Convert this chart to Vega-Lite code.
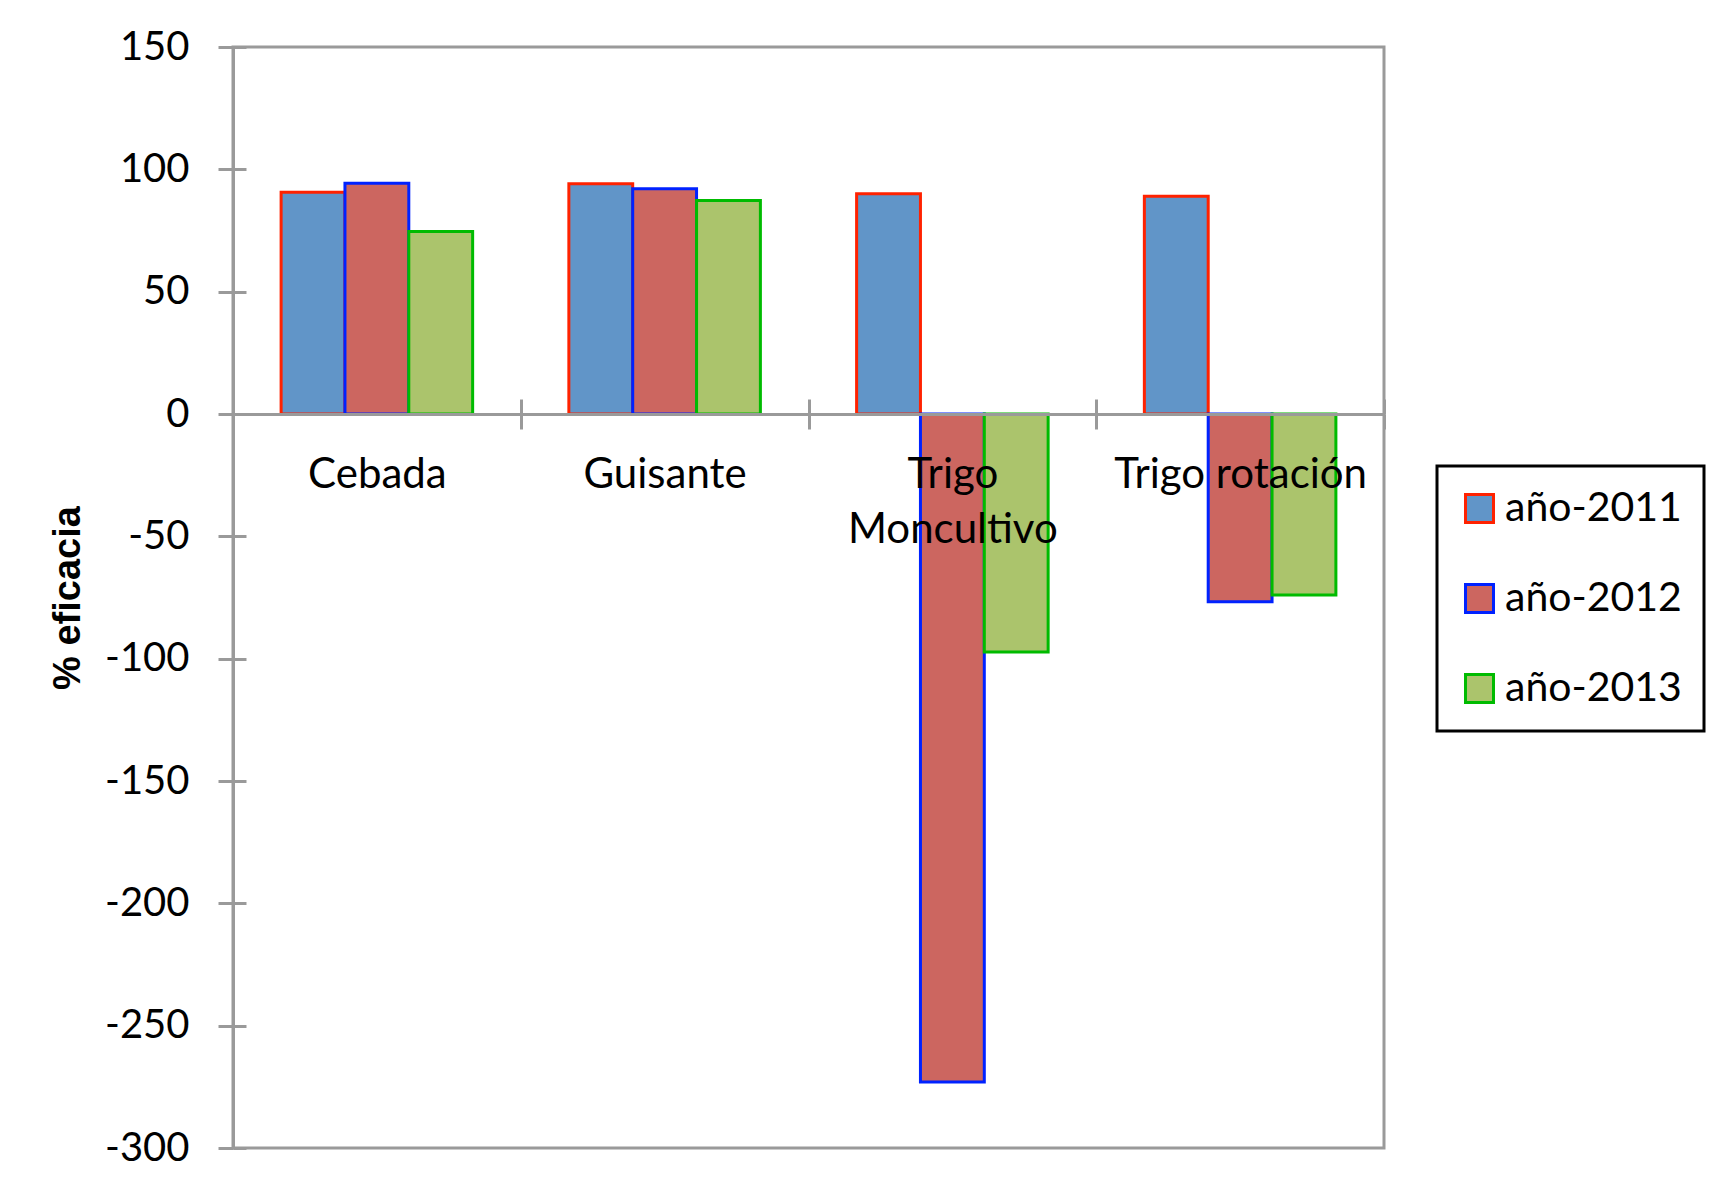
{
  "$schema": "https://vega.github.io/schema/vega-lite/v6.json",
  "autosize": {"type": "none"},
  "padding": {"left": 233, "top": 47, "right": 332, "bottom": 37},
  "width": 1151,
  "height": 1101,
  "background": "white",
  "config": {
    "view": {"stroke": "#9a9a9a", "strokeWidth": 3},
    "font": "Lato",
    "legend": {
      "strokeColor": "black",
      "strokeWidth": 3,
      "padding": 22,
      "symbolType": "square",
      "symbolSize": 784,
      "symbolStrokeWidth": 3,
      "symbolOpacity": 1,
      "labelFont": "Lato",
      "labelFontSize": 41,
      "labelColor": "black",
      "labelOffset": 5,
      "rowPadding": 48,
      "labelLimit": 0
    }
  },
  "data": {
    "values": [
      {"cultivo": "Cebada", "year": "año-2011", "eficacia": 90.6},
      {"cultivo": "Cebada", "year": "año-2012", "eficacia": 94.3},
      {"cultivo": "Cebada", "year": "año-2013", "eficacia": 74.6},
      {"cultivo": "Guisante", "year": "año-2011", "eficacia": 94.1},
      {"cultivo": "Guisante", "year": "año-2012", "eficacia": 92.1},
      {"cultivo": "Guisante", "year": "año-2013", "eficacia": 87.3},
      {"cultivo": "Trigo Moncultivo", "year": "año-2011", "eficacia": 90.0},
      {"cultivo": "Trigo Moncultivo", "year": "año-2012", "eficacia": -273.0},
      {"cultivo": "Trigo Moncultivo", "year": "año-2013", "eficacia": -97.3},
      {"cultivo": "Trigo rotación", "year": "año-2011", "eficacia": 89.0},
      {"cultivo": "Trigo rotación", "year": "año-2012", "eficacia": -76.7},
      {"cultivo": "Trigo rotación", "year": "año-2013", "eficacia": -74.0}
    ]
  },
  "resolve": {"axis": {"x": "independent", "y": "independent"}},
  "layer": [
    {
      "mark": {"type": "bar", "strokeWidth": 3, "opacity": 1},
      "encoding": {
        "x": {
          "field": "cultivo",
          "type": "nominal",
          "sort": null,
          "scale": {"paddingInner": 0, "paddingOuter": 0},
          "axis": {
            "title": null,
            "orient": "bottom",
            "offset": -734,
            "zindex": 1,
            "domainColor": "#9a9a9a",
            "domainWidth": 3,
            "tickColor": "#9a9a9a",
            "tickWidth": 3,
            "tickSize": 15,
            "tickBand": "extent",
            "labelAngle": 0,
            "labelFont": "Lato",
            "labelFontSize": 42,
            "labelColor": "black",
            "labelPadding": 25,
            "labelLineHeight": 55,
            "labelBaseline": "top",
            "labelOverlap": false,
            "labelLimit": 0,
            "labelExpr": "datum.label == 'Trigo Moncultivo' ? ['Trigo', 'Moncultivo'] : datum.label"
          }
        },
        "xOffset": {
          "field": "year",
          "type": "nominal",
          "scale": {"paddingInner": 0, "paddingOuter": 0.7535}
        },
        "y": {
          "field": "eficacia",
          "type": "quantitative",
          "scale": {"domain": [-300, 150], "nice": false, "zero": false},
          "axis": {
            "title": "% eficacia",
            "titleFont": "Liberation Sans",
            "titleFontWeight": "bold",
            "titleFontSize": 38,
            "titleColor": "black",
            "titlePadding": 17,
            "values": [-300, -250, -200, -150, -100, -50, 0, 50, 100, 150],
            "grid": false,
            "domainColor": "#9a9a9a",
            "domainWidth": 3,
            "tickColor": "#9a9a9a",
            "tickWidth": 3,
            "tickSize": 15,
            "labelFont": "Lato",
            "labelFontSize": 40,
            "labelColor": "black",
            "labelPadding": 29,
            "labelExpr": "'' + datum.value"
          }
        },
        "fill": {
          "field": "year",
          "type": "nominal",
          "scale": {"domain": ["año-2011", "año-2012", "año-2013"], "range": ["#6195C8", "#CC6660", "#ABC46C"]},
          "legend": {"title": null, "orient": "none", "legendX": 1204, "legendY": 419}
        },
        "stroke": {
          "field": "year",
          "type": "nominal",
          "scale": {"domain": ["año-2011", "año-2012", "año-2013"], "range": ["#FF2200", "#0022FF", "#00BB00"]},
          "legend": {"title": null, "orient": "none", "legendX": 1204, "legendY": 419}
        }
      }
    },
    {
      "mark": {"type": "point", "opacity": 0},
      "encoding": {
        "x": {
          "field": "cultivo",
          "type": "nominal",
          "sort": null,
          "axis": {
            "title": null,
            "orient": "top",
            "offset": -367,
            "zindex": 1,
            "domain": false,
            "labels": false,
            "tickColor": "#9a9a9a",
            "tickWidth": 3,
            "tickSize": 15,
            "tickBand": "extent"
          }
        },
        "y": {
          "datum": 0,
          "type": "quantitative",
          "axis": {
            "title": null,
            "orient": "right",
            "offset": -1151,
            "domain": false,
            "labels": false,
            "grid": false,
            "values": [-300, -250, -200, -150, -100, -50, 0, 50, 100, 150],
            "tickColor": "#9a9a9a",
            "tickWidth": 3,
            "tickSize": 13
          }
        }
      }
    }
  ]
}
